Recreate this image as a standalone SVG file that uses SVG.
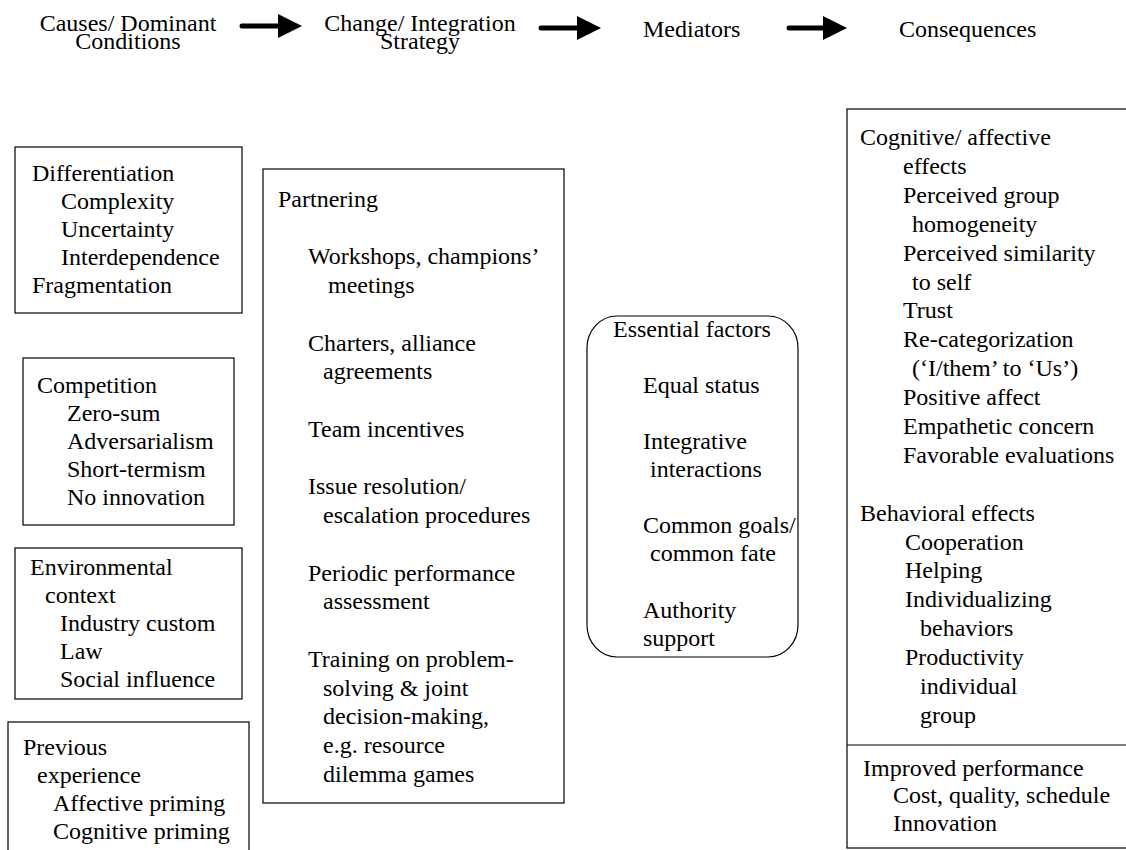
<svg xmlns="http://www.w3.org/2000/svg" width="1126" height="850" viewBox="0 0 1126 850">
<defs>
<style>
text{font-family:"Liberation Serif","Times New Roman",serif;font-size:24px;fill:#000}
.c{text-anchor:middle}
.box{fill:none;stroke:#000;stroke-width:1.2}
.arr{stroke:#000;stroke-width:5;stroke-linecap:round;fill:none}
</style>
<marker id="ah" viewBox="0 0 24 24" refX="0" refY="12" markerWidth="24" markerHeight="24" markerUnits="userSpaceOnUse" orient="auto">
<path d="M0,0 L24,12 L0,24 Z" fill="#000"/>
</marker>
</defs>
<rect width="1126" height="850" fill="#fff"/>

<g id="header">
<g id="h-causes"><text class="c" x="128" y="31">Causes/ Dominant</text><text class="c" x="128" y="49">Conditions</text></g>
<g id="h-change"><text class="c" x="420" y="31">Change/ Integration</text><text class="c" x="420" y="49">Strategy</text></g>
<g id="h-mediators"><text x="643" y="37">Mediators</text></g>
<g id="h-consequences"><text x="899" y="37">Consequences</text></g>
</g>

<g id="connectors">
<line class="arr" x1="242" y1="26" x2="278" y2="26" marker-end="url(#ah)"/>
<line class="arr" x1="541" y1="28" x2="577" y2="28" marker-end="url(#ah)"/>
<line class="arr" x1="789" y1="28" x2="823" y2="28" marker-end="url(#ah)"/>
</g>

<g id="differentiation">
<rect class="box" x="15" y="147" width="227" height="166"/>
<text x="32" y="181">Differentiation</text>
<text x="61" y="209">Complexity</text>
<text x="61" y="237">Uncertainty</text>
<text x="61" y="265">Interdependence</text>
<text x="32" y="293">Fragmentation</text>
</g>

<g id="competition">
<rect class="box" x="23" y="358" width="211" height="167"/>
<text x="37" y="393">Competition</text>
<text x="67" y="421">Zero-sum</text>
<text x="67" y="449">Adversarialism</text>
<text x="67" y="477">Short-termism</text>
<text x="67" y="505">No innovation</text>
</g>

<g id="environmental">
<rect class="box" x="15" y="548" width="227" height="151"/>
<text x="30" y="575">Environmental</text>
<text x="45" y="603">context</text>
<text x="60" y="631">Industry custom</text>
<text x="60" y="659">Law</text>
<text x="60" y="687">Social influence</text>
</g>

<g id="previous">
<rect class="box" x="8" y="722" width="241" height="140"/>
<text x="23" y="755">Previous</text>
<text x="37" y="783">experience</text>
<text x="53" y="811">Affective priming</text>
<text x="53" y="839">Cognitive priming</text>
</g>

<g id="partnering">
<rect class="box" x="263" y="169" width="301" height="634"/>
<text x="278" y="207">Partnering</text>
<text x="308" y="264">Workshops, champions’</text>
<text x="328" y="293">meetings</text>
<text x="308" y="351">Charters, alliance</text>
<text x="323" y="379">agreements</text>
<text x="308" y="437">Team incentives</text>
<text x="308" y="494">Issue resolution/</text>
<text x="323" y="523">escalation procedures</text>
<text x="308" y="581">Periodic performance</text>
<text x="323" y="609">assessment</text>
<text x="308" y="667">Training on problem-</text>
<text x="323" y="696">solving &amp; joint</text>
<text x="323" y="724">decision-making,</text>
<text x="323" y="753">e.g. resource</text>
<text x="323" y="782">dilemma games</text>
</g>

<g id="essential">
<rect class="box" x="587" y="316" width="211" height="341" rx="30" ry="32"/>
<text x="613" y="337">Essential factors</text>
<text x="643" y="393">Equal status</text>
<text x="643" y="449">Integrative</text>
<text x="650" y="477">interactions</text>
<text x="643" y="533">Common goals/</text>
<text x="650" y="561">common fate</text>
<text x="643" y="618">Authority</text>
<text x="643" y="646">support</text>
</g>

<g id="consequences">
<rect class="box" x="847" y="109" width="290" height="739"/>
<line class="box" x1="847" y1="745" x2="1126" y2="745"/>
<text x="860" y="145">Cognitive/ affective</text>
<text x="903" y="174">effects</text>
<text x="903" y="203">Perceived group</text>
<text x="912" y="232">homogeneity</text>
<text x="903" y="261">Perceived similarity</text>
<text x="912" y="290">to self</text>
<text x="903" y="318">Trust</text>
<text x="903" y="347">Re-categorization</text>
<text x="912" y="376">(‘I/them’ to ‘Us’)</text>
<text x="903" y="405">Positive affect</text>
<text x="903" y="434">Empathetic concern</text>
<text x="903" y="463">Favorable evaluations</text>
<text x="860" y="521">Behavioral effects</text>
<text x="905" y="550">Cooperation</text>
<text x="905" y="578">Helping</text>
<text x="905" y="607">Individualizing</text>
<text x="920" y="636">behaviors</text>
<text x="905" y="665">Productivity</text>
<text x="920" y="694">individual</text>
<text x="920" y="723">group</text>
<text x="863" y="776">Improved performance</text>
<text x="893" y="803">Cost, quality, schedule</text>
<text x="893" y="831">Innovation</text>
</g>
</svg>
